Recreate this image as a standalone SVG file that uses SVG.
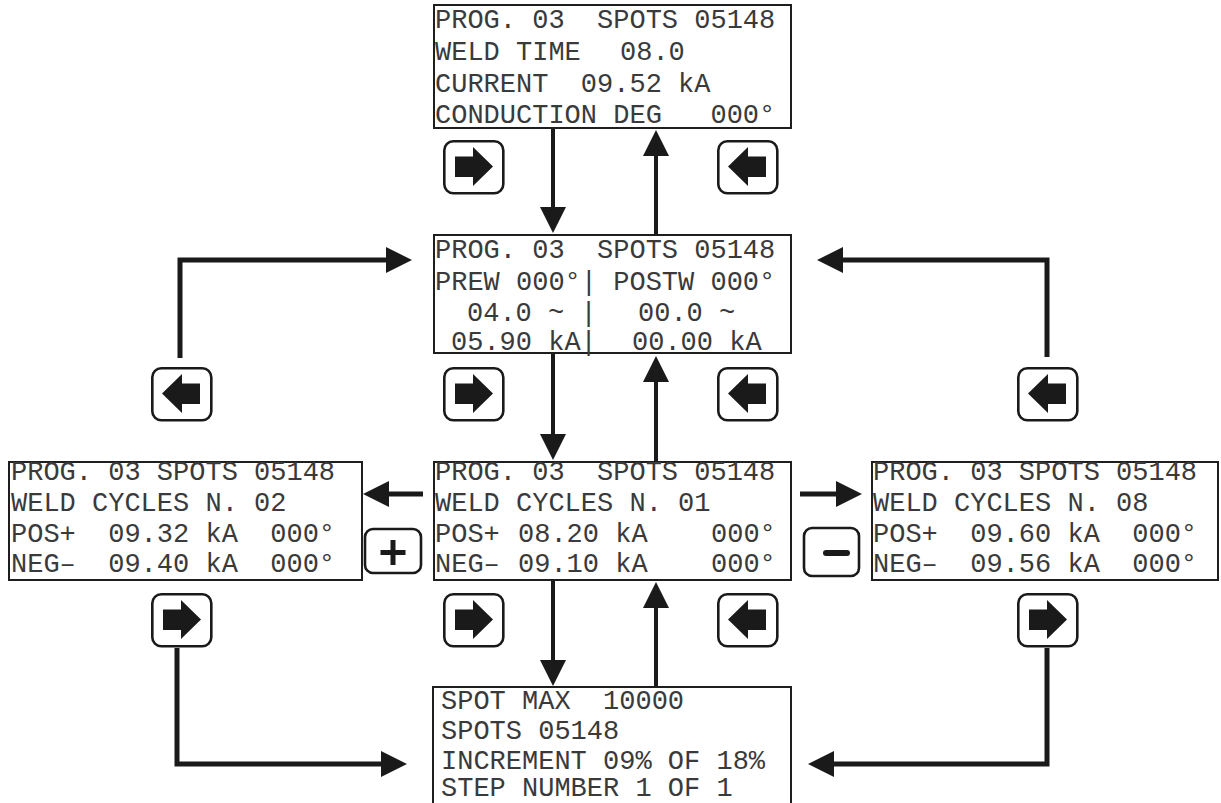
<svg xmlns="http://www.w3.org/2000/svg" xmlns:xlink="http://www.w3.org/1999/xlink" width="1221" height="803" viewBox="0 0 1221 803">
<style>
.box{fill:#fff;stroke:#1e1e1e;stroke-width:2}
.t{font-family:"Liberation Mono","Courier New",monospace;font-size:27px;fill:#3a3a3a;white-space:pre}
.ln{fill:none;stroke:#1a1a1a;stroke-width:5;stroke-linejoin:miter}
.vl{fill:none;stroke:#1a1a1a;stroke-width:4}
.btn{fill:#fff;stroke:#1a1a1a;stroke-width:2.6}
.glyph{fill:#1a1a1a}
</style>
<defs>
<marker id="ah" viewBox="0 0 26 26" markerWidth="26" markerHeight="26" refX="3" refY="13" orient="auto" markerUnits="userSpaceOnUse">
<path d="M0,0 L26,13 L0,26 Z" fill="#1a1a1a"/>
</marker>
<g id="btnR">
<rect class="btn" x="1.3" y="1.3" width="59" height="52" rx="9"/>
<path class="glyph" d="M12,16.5 H30 V7 L50,26.5 L30,46 V37 H12 Z"/>
</g>
<g id="btnL">
<rect class="btn" x="1.3" y="1.3" width="59" height="52" rx="9"/>
<path class="glyph" d="M49,16.5 H31 V7 L11,26.5 L31,46 V37 H49 Z"/>
</g>
</defs>
<rect width="1221" height="803" fill="#fff"/>

<g id="connectors">
<line class="vl" x1="553" y1="128" x2="553" y2="210" marker-end="url(#ah)"/>
<line class="vl" x1="656" y1="235" x2="656" y2="153" marker-end="url(#ah)"/>
<line class="vl" x1="553" y1="353" x2="553" y2="437" marker-end="url(#ah)"/>
<line class="vl" x1="656" y1="462" x2="656" y2="379" marker-end="url(#ah)"/>
<line class="vl" x1="553" y1="580" x2="553" y2="663" marker-end="url(#ah)"/>
<line class="vl" x1="656" y1="687" x2="656" y2="605" marker-end="url(#ah)"/>
<path class="ln" d="M180,358 V260 H389" marker-end="url(#ah)"/>
<path class="ln" d="M1047,357 V260 H840" marker-end="url(#ah)"/>
<path class="ln" d="M177,648 V764 H384" marker-end="url(#ah)"/>
<path class="ln" d="M1047,648 V764 H831" marker-end="url(#ah)"/>
<line class="ln" x1="423" y1="494" x2="386" y2="494" marker-end="url(#ah)"/>
<line class="ln" x1="800" y1="494" x2="839" y2="494" marker-end="url(#ah)"/>
</g>

<g id="screen-weld-time">
<rect class="box" x="434" y="5" width="357" height="123"/>
<text class="t" x="435" y="28">PROG. 03  SPOTS 05148</text>
<text class="t" x="435" y="60">WELD TIME</text>
<text class="t" x="620" y="60">08.0</text>
<text class="t" x="435" y="92">CURRENT  09.52 kA</text>
<text class="t" x="435" y="123">CONDUCTION DEG   000°</text>
</g>

<g id="screen-prew-postw">
<rect class="box" x="434" y="235" width="357" height="118"/>
<text class="t" x="435" y="258">PROG. 03  SPOTS 05148</text>
<text class="t" x="435" y="290">PREW 000°| POSTW 000°</text>
<text class="t" x="467" y="321">04.0 ~ |</text>
<text class="t" x="638" y="321">00.0 ~</text>
<text class="t" x="451" y="350">05.90 kA|</text>
<text class="t" x="632" y="350">00.00 kA</text>
</g>

<g id="screen-cycles-02">
<rect class="box" x="9" y="462" width="353" height="118"/>
<text class="t" x="11" y="480">PROG. 03 SPOTS 05148</text>
<text class="t" x="11" y="511">WELD CYCLES N. 02</text>
<text class="t" x="11" y="542">POS+  09.32 kA  000°</text>
<text class="t" x="11" y="572">NEG–  09.40 kA  000°</text>
</g>

<g id="screen-cycles-01">
<rect class="box" x="434" y="462" width="357" height="118"/>
<text class="t" x="435" y="480">PROG. 03  SPOTS 05148</text>
<text class="t" x="435" y="511">WELD CYCLES N. 01</text>
<text class="t" x="435" y="542">POS+</text>
<text class="t" x="518" y="542">08.20 kA</text>
<text class="t" x="711" y="542">000°</text>
<text class="t" x="435" y="572">NEG–</text>
<text class="t" x="518" y="572">09.10 kA</text>
<text class="t" x="711" y="572">000°</text>
</g>

<g id="screen-spot-max">
<path class="box" d="M433,803 V687 H791 V803"/>
<text class="t" x="441" y="709">SPOT MAX  10000</text>
<text class="t" x="441" y="739">SPOTS 05148</text>
<text class="t" x="441" y="769">INCREMENT 09% OF 18%</text>
<text class="t" x="441" y="796">STEP NUMBER 1 OF 1</text>
</g>

<g id="screen-cycles-08">
<rect class="box" x="872" y="462" width="346" height="118"/>
<text class="t" x="873" y="480">PROG. 03 SPOTS 05148</text>
<text class="t" x="873" y="511">WELD CYCLES N. 08</text>
<text class="t" x="873" y="542">POS+  09.60 kA  000°</text>
<text class="t" x="873" y="572">NEG–  09.56 kA  000°</text>
</g>

<g id="btn-top-right"><use xlink:href="#btnR" x="443" y="140"/></g>
<g id="btn-top-left"><use xlink:href="#btnL" x="717" y="140"/></g>
<g id="btn-mid-far-left"><use xlink:href="#btnL" x="151" y="367"/></g>
<g id="btn-mid-right"><use xlink:href="#btnR" x="443" y="367"/></g>
<g id="btn-mid-left"><use xlink:href="#btnL" x="717" y="367"/></g>
<g id="btn-mid-far-right"><use xlink:href="#btnL" x="1017" y="367"/></g>
<g id="btn-low-far-left"><use xlink:href="#btnR" x="151" y="593"/></g>
<g id="btn-low-right"><use xlink:href="#btnR" x="443" y="593"/></g>
<g id="btn-low-left"><use xlink:href="#btnL" x="717" y="593"/></g>
<g id="btn-low-far-right"><use xlink:href="#btnR" x="1017" y="593"/></g>

<g id="btn-plus">
<rect class="btn" x="365" y="529" width="56" height="44" rx="8"/>
<path class="glyph" d="M390.5,540 h5 v10 h10 v5 h-10 v10 h-5 v-10 h-10 v-5 h10 Z"/>
</g>
<g id="btn-minus">
<rect class="btn" x="804" y="528" width="55" height="48" rx="8"/>
<line x1="826" y1="553" x2="847" y2="553" stroke="#1a1a1a" stroke-width="6" stroke-linecap="round"/>
</g>
</svg>
